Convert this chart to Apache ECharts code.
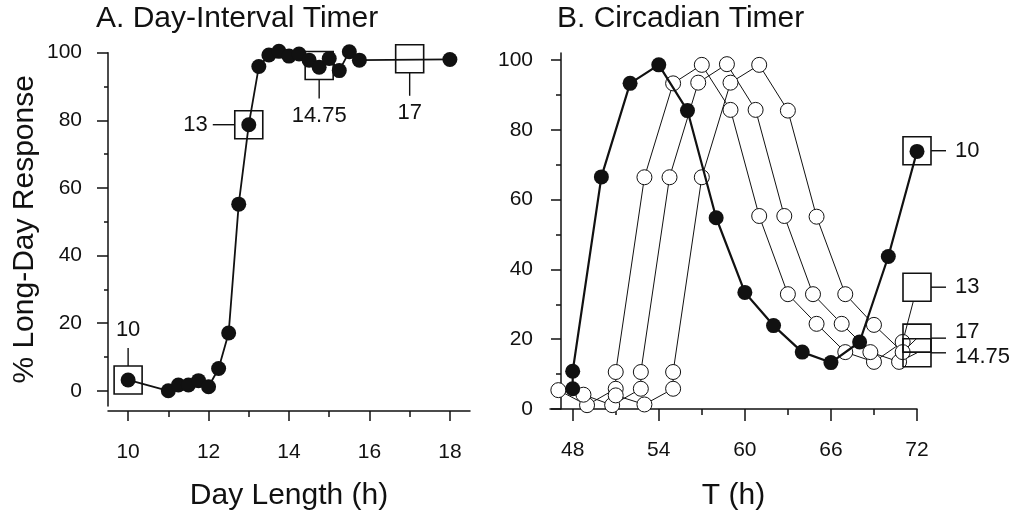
<!DOCTYPE html>
<html><head><meta charset="utf-8">
<script src="https://cdn.jsdelivr.net/npm/echarts@6/dist/echarts.min.js"></script>
<style>html,body{margin:0;padding:0;background:#fff}#c{width:1015px;height:516px}</style>
</head><body><div id="c"></div>
<script>
// ---------- Panel A: Day-Interval Timer ----------
const dayLength = [10, 11, 11.25, 11.5, 11.75, 12, 12.25, 12.5, 12.75, 13, 13.25, 13.5, 13.75, 14, 14.25, 14.5, 14.75, 15, 15.25, 15.5, 15.75, 18];
const longDayResponse = [3.2, 0, 1.7, 1.7, 3, 1.2, 6.6, 17.1, 55.2, 78.7, 95.9, 99.3, 100.4, 99, 99.6, 97.8, 95.7, 98.3, 94.7, 100.3, 97.8, 98];
const markedDayLength = [10, 13, 14.75, 17];
const markedResponseA = [3.2, 78.7, 96.2, 98.2];
const markLabels = ['10', '13', '14.75', '17'];
const dayTicksMajor = [10, 12, 14, 16, 18];
const dayTicksMinor = [11, 13, 15, 17];

// ---------- Panel B: Circadian Timer ----------
const t10 = [48, 48, 50, 52, 54, 56, 58, 60, 62, 64, 66, 68, 70, 72];
const r10 = [5.8, 10.8, 66.5, 93.3, 98.6, 85.5, 54.8, 33.4, 23.9, 16.3, 13.3, 19.2, 43.7, 73.8];
const t13 = [47, 49, 51, 51, 53, 55, 57, 59, 61, 63, 65, 67, 69, 71];
const r13 = [5.4, 1.1, 5.8, 10.6, 66.4, 93.3, 98.6, 85.7, 55.3, 32.9, 24.4, 16.3, 13.5, 19.2];
const t1475 = [48.75, 50.75, 52.75, 52.75, 54.75, 56.75, 58.75, 60.75, 62.75, 64.75, 66.75, 68.75, 70.75];
const r1475 = [4.1, 1.1, 5.8, 10.6, 66.4, 93.5, 98.8, 85.7, 55.3, 32.9, 24.4, 16.3, 13.5];
const t17 = [51, 53, 55, 55, 57, 59, 61, 63, 65, 67, 69, 71];
const r17 = [3.9, 1.3, 5.8, 10.6, 66.4, 93.5, 98.6, 85.5, 55.1, 32.9, 24.1, 16.3];
const markedT = [72, 72, 72, 72];
const markedResponseB = [74, 34.9, 16.1, 20.3];
const tTicksMajor = [48, 54, 60, 66, 72];
const tTicksMinor = [51, 57, 63, 69];
const respTicksMajor = [0, 20, 40, 60, 80, 100];
const respTicksMinor = [10, 30, 50, 70, 90];

const FONT = 'Liberation Sans';
const INK = '#111';
const zip = (a, b) => a.map((v, i) => [v, b[i]]);

function squareRenderer(placement) {
  return function (params, api) {
    const p = api.coord([api.value(0), api.value(1)]);
    const lab = markLabels[params.dataIndex];
    const h = 14;
    const pl = placement[lab];
    const ch = [{type: 'rect', shape: {x: p[0] - h, y: p[1] - h, width: 2 * h, height: 2 * h},
      style: {fill: pl.fill || 'none', stroke: INK, lineWidth: 1.6}}];
    let l, t;
    if (pl.side === 'top') {
      l = [p[0], p[1] - h, p[0], p[1] - h - 18];
      t = {x: p[0], y: p[1] - h - 25, align: 'center', verticalAlign: 'bottom'};
    } else if (pl.side === 'left') {
      l = [p[0] - h, p[1], p[0] - h - 22, p[1]];
      t = {x: p[0] - h - 27, y: p[1], align: 'right', verticalAlign: 'middle'};
    } else if (pl.side === 'bottom') {
      l = [p[0], p[1] + h, p[0], p[1] + h + pl.len];
      t = {x: p[0], y: p[1] + h + pl.len + 6, align: 'center', verticalAlign: 'top'};
    } else {
      l = [p[0] + h, p[1], p[0] + h + 15, p[1]];
      t = {x: p[0] + h + 24, y: p[1] + (pl.dy || 0), align: 'left', verticalAlign: 'middle'};
    }
    ch.push({type: 'line', shape: {x1: l[0], y1: l[1], x2: l[2], y2: l[3]}, style: {stroke: INK, lineWidth: 1.4}});
    ch.push({type: 'text', style: Object.assign({text: lab, fill: INK, fontSize: 22, fontFamily: FONT}, t)});
    return {type: 'group', children: ch};
  };
}

const axisLineStyle = {show: true, onZero: false, lineStyle: {color: INK, width: 1.5}};
const noLine = {show: false, onZero: false};
const labelStyle = {color: INK, fontSize: 21, fontFamily: FONT};
const tickStyle = {color: INK, width: 1.5};

function openLine(t, r, sqIdx) {
  const d = zip(t, r);
  d.push({value: [markedT[sqIdx], markedResponseB[sqIdx]], symbol: 'none'});
  return {type: 'line', xAxisIndex: 2, yAxisIndex: 2, data: d, symbol: 'circle', symbolSize: 15,
    itemStyle: {color: '#fff', borderColor: INK, borderWidth: 1}, lineStyle: {color: INK, width: 1},
    clip: false, z: 3};
}

const option = {
  backgroundColor: '#fff',
  animation: false,
  title: [
    {text: 'A. Day-Interval Timer', left: 96, top: 4, padding: 0, textStyle: {fontSize: 30, fontWeight: 'normal', fontFamily: FONT, color: INK}},
    {text: 'B. Circadian Timer', left: 557, top: 4, padding: 0, textStyle: {fontSize: 30, fontWeight: 'normal', fontFamily: FONT, color: INK}}
  ],
  grid: [
    {left: 108, top: 52.7, width: 362, height: 355.1},
    {left: 550, top: 53, width: 367, height: 357.5}
  ],
  xAxis: [
    {gridIndex: 0, type: 'value', position: 'bottom', min: 9.5, max: 18.5, offset: 5, axisLine: axisLineStyle, splitLine: {show: false},
      axisTick: {show: true, customValues: dayTicksMajor, length: 10, lineStyle: tickStyle},
      axisLabel: Object.assign({customValues: dayTicksMajor, margin: 31}, labelStyle),
      name: 'Day Length (h)', nameLocation: 'middle', nameGap: 70, nameTextStyle: {fontSize: 30, fontFamily: FONT, color: INK}},
    {gridIndex: 0, type: 'value', position: 'bottom', min: 9.5, max: 18.5, offset: 5, axisLine: noLine, splitLine: {show: false},
      axisTick: {show: true, customValues: dayTicksMinor, length: 6, lineStyle: tickStyle}, axisLabel: {show: false}},
    {gridIndex: 1, type: 'value', position: 'bottom', min: 46.418, max: 72, axisLine: axisLineStyle, splitLine: {show: false},
      axisTick: {show: true, customValues: tTicksMajor, length: 12, lineStyle: tickStyle},
      axisLabel: Object.assign({customValues: tTicksMajor, margin: 31}, labelStyle),
      name: 'T (h)', nameLocation: 'middle', nameGap: 72, nameTextStyle: {fontSize: 30, fontFamily: FONT, color: INK}},
    {gridIndex: 1, type: 'value', position: 'bottom', min: 46.418, max: 72, axisLine: noLine, splitLine: {show: false},
      axisTick: {show: true, customValues: tTicksMinor, length: 6, lineStyle: tickStyle}, axisLabel: {show: false}}
  ],
  yAxis: [
    {gridIndex: 0, type: 'value', position: 'left', min: -4.5, max: 100, axisLine: axisLineStyle, splitLine: {show: false},
      axisTick: {show: true, customValues: respTicksMajor, length: 11, lineStyle: tickStyle},
      axisLabel: Object.assign({customValues: respTicksMajor, margin: 26}, labelStyle),
      name: '% Long-Day Response', nameLocation: 'middle', nameGap: 68, nameTextStyle: {fontSize: 30, fontFamily: FONT, color: INK}},
    {gridIndex: 0, type: 'value', position: 'left', min: -4.5, max: 100, axisLine: noLine, splitLine: {show: false},
      axisTick: {show: true, customValues: respTicksMinor, length: 4, lineStyle: tickStyle}, axisLabel: {show: false}},
    {gridIndex: 1, type: 'value', position: 'left', min: 0, max: 102, offset: -11, axisLine: axisLineStyle, splitLine: {show: false},
      axisTick: {show: true, customValues: respTicksMajor, length: 10, lineStyle: tickStyle},
      axisLabel: Object.assign({customValues: respTicksMajor, margin: 28}, labelStyle)},
    {gridIndex: 1, type: 'value', position: 'left', min: 0, max: 102, offset: -11, axisLine: noLine, splitLine: {show: false},
      axisTick: {show: true, customValues: respTicksMinor, length: 5, lineStyle: tickStyle}, axisLabel: {show: false}}
  ],
  series: [
    {type: 'custom', xAxisIndex: 0, yAxisIndex: 0, z: 1, clip: false,
      renderItem: squareRenderer({'10': {side: 'top'}, '13': {side: 'left'}, '14.75': {side: 'bottom', len: 19}, '17': {side: 'bottom', len: 23}}),
      data: zip(markedDayLength, markedResponseA)},
    {type: 'line', xAxisIndex: 0, yAxisIndex: 0, data: zip(dayLength, longDayResponse), symbol: 'circle', symbolSize: 15,
      itemStyle: {color: INK}, lineStyle: {color: INK, width: 1.8}, clip: false, z: 2},
    openLine(t13, r13, 1),
    openLine(t1475, r1475, 2),
    openLine(t17, r17, 3),
    {type: 'custom', xAxisIndex: 2, yAxisIndex: 2, z: 4, clip: false,
      renderItem: squareRenderer({'10': {side: 'right'}, '13': {side: 'right', fill: '#fff'}, '14.75': {side: 'right', dy: 4}, '17': {side: 'right', dy: -6}}),
      data: zip(markedT, markedResponseB)},
    {type: 'line', xAxisIndex: 2, yAxisIndex: 2, data: zip(t10, r10), symbol: 'circle', symbolSize: 15,
      itemStyle: {color: INK}, lineStyle: {color: INK, width: 2.2}, clip: false, z: 5}
  ]
};
const chart = echarts.init(document.getElementById('c'), null, {renderer: 'canvas'});
chart.setOption(option);
</script></body></html>
